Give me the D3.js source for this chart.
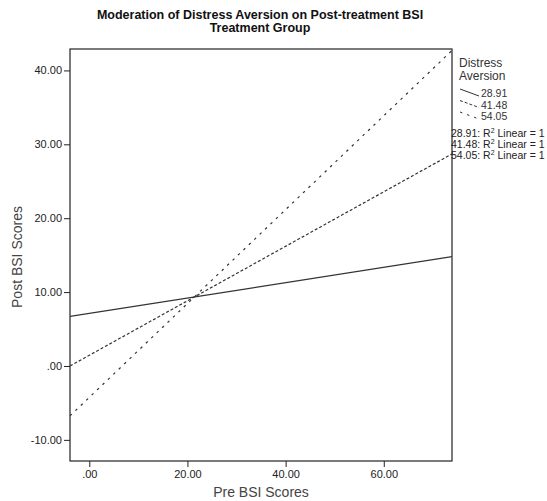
<!DOCTYPE html>
<html>
<head>
<meta charset="utf-8">
<script src="https://cdn.jsdelivr.net/npm/d3@7"></script>
<style>
  body { margin: 0; background: #fff; }
  svg text { font-family: Arial, "Liberation Sans", sans-serif; }
</style>
</head>
<body>
<div id="chart"></div>
<script>
// end points of the fitted lines
const preBSI = [-3.93, 73.9];
const levels = ["28.91", "41.48", "54.05"];
const post2891 = [6.7, 14.8];
const post4148 = [0.0, 28.7];
const post5405 = [-6.75, 42.7];
const xTicks = [0, 20, 40, 60];
const yTicks = [-10, 0, 10, 20, 30, 40];

const series = [
  { name: levels[0], values: post2891, dash: null },
  { name: levels[1], values: post4148, dash: "3,2" },
  { name: levels[2], values: post5405, dash: "2.5,5" }
];

// box of the plot
const margin = { top: 49, right: 95, bottom: 40, left: 70 },
      width = 547,
      height = 501,
      innerW = width - margin.left - margin.right,
      innerH = height - margin.top - margin.bottom;

const svg = d3.select("#chart").append("svg")
  .attr("width", width)
  .attr("height", height);

const x = d3.scaleLinear().domain([-3.93, 73.9]).range([margin.left, margin.left + innerW]);
const y = d3.scaleLinear().domain([-12.86, 42.9]).range([margin.top + innerH, margin.top]);

const fmt = d => d === 0 ? ".00" : d.toFixed(2);

// title
const title = svg.append("text")
  .attr("text-anchor", "middle")
  .attr("font-weight", "bold")
  .attr("font-size", "12.5px")
  .attr("fill", "#111");
title.append("tspan").attr("x", 260).attr("y", 19).text("Moderation of Distress Aversion on Post-treatment BSI");
title.append("tspan").attr("x", 260).attr("y", 32).text("Treatment Group");

// axes
const xAxis = svg.append("g")
  .attr("transform", `translate(0,${margin.top + innerH})`)
  .call(d3.axisBottom(x).tickValues(xTicks).tickFormat(fmt).tickSize(6).tickPadding(3));
const yAxis = svg.append("g")
  .attr("transform", `translate(${margin.left},0)`)
  .call(d3.axisLeft(y).tickValues(yTicks).tickFormat(fmt).tickSize(6).tickPadding(2));

[xAxis, yAxis].forEach(a => {
  a.select(".domain").remove();
  a.selectAll("line").attr("stroke", "#222");
  a.selectAll("text").attr("font-size", "11px").attr("fill", "#222").attr("font-family", "Arial, 'Liberation Sans', sans-serif");
});

// frame
svg.append("rect")
  .attr("x", margin.left).attr("y", margin.top)
  .attr("width", innerW).attr("height", innerH)
  .attr("fill", "none").attr("stroke", "#222").attr("stroke-width", 1.2);

// lines
svg.append("clipPath").attr("id", "clip")
  .append("rect").attr("x", margin.left).attr("y", margin.top).attr("width", innerW).attr("height", innerH);

const line = d3.line().x(d => x(d[0])).y(d => y(d[1]));

svg.append("g").attr("clip-path", "url(#clip)")
  .selectAll("path")
  .data(series)
  .enter().append("path")
  .attr("d", d => line(preBSI.map((p, i) => [p, d.values[i]])))
  .attr("fill", "none")
  .attr("stroke", "#333")
  .attr("stroke-width", 1.2)
  .attr("stroke-dasharray", d => d.dash);

// axis titles
svg.append("text")
  .attr("x", 261).attr("y", 497)
  .attr("text-anchor", "middle")
  .attr("font-size", "14px").attr("fill", "#444")
  .text("Pre BSI Scores");
svg.append("text")
  .attr("transform", "translate(22,257) rotate(-90)")
  .attr("text-anchor", "middle")
  .attr("font-size", "14px").attr("fill", "#444")
  .text("Post BSI Scores");

// legend
const legend = svg.append("g");
legend.append("text").attr("x", 459).attr("y", 67).attr("font-size", "12px").attr("fill", "#333").text("Distress");
legend.append("text").attr("x", 459).attr("y", 80).attr("font-size", "12px").attr("fill", "#333").text("Aversion");

const entry = legend.selectAll("g.entry")
  .data(series)
  .enter().append("g")
  .attr("class", "entry")
  .attr("transform", (d, i) => `translate(0,${i * 11.5})`);

entry.append("line")
  .attr("x1", 460).attr("y1", 89)
  .attr("x2", 479).attr("y2", 96)
  .attr("stroke", "#333").attr("stroke-width", 1)
  .attr("stroke-dasharray", d => d.dash);
entry.append("text")
  .attr("x", 481).attr("y", 97)
  .attr("font-size", "10.5px").attr("fill", "#333")
  .text(d => d.name);

const r2 = legend.selectAll("text.r2")
  .data(series)
  .enter().append("text")
  .attr("class", "r2")
  .attr("x", 451)
  .attr("y", (d, i) => 137 + i * 11)
  .attr("font-size", "10.5px").attr("fill", "#222");
r2.append("tspan").text(d => d.name + ": R");
r2.append("tspan").attr("dy", -4).attr("font-size", "7px").text("2");
r2.append("tspan").attr("dy", 4).text(" Linear = 1");
</script>
</body>
</html>
